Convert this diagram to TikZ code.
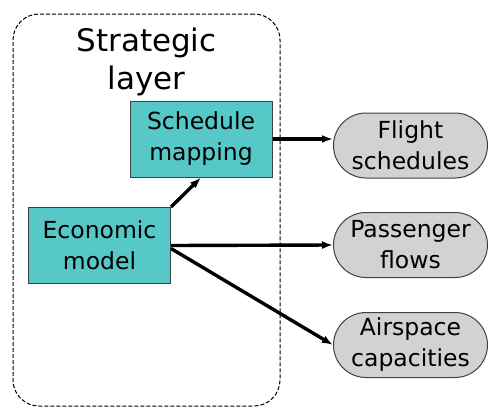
\documentclass[tikz,border=0pt]{standalone}
\usepackage{fontspec}
\setmainfont{DejaVu Sans}
\usetikzlibrary{positioning,arrows.meta,shapes.misc}

\definecolor{tealfill}{HTML}{56C8C8}
\definecolor{pillfill}{HTML}{D2D2D2}
\definecolor{edge}{HTML}{404040}

\begin{document}
\begin{tikzpicture}[
  x=1pt, y=-1pt,
  >={Latex[length=11pt,width=8pt]},
  font=\fontsize{23.5}{31}\selectfont,
  flow/.style={->, line width=3.4pt},
  layerbox/.style={
     draw=black,
     dash pattern=on 4pt off 2pt,
     line width=1pt,
     rounded corners=26pt,
     minimum width=267pt,
     minimum height=392pt
  },
  model/.style={
     draw=edge,
     fill=tealfill,
     line width=1pt,
     minimum width=142pt,
     minimum height=76pt,
     inner sep=0pt,
     align=center
  },
  output/.style={
     rounded rectangle,
     draw=edge,
     fill=pillfill,
     line width=1pt,
     minimum width=154pt,
     minimum height=65pt,
     inner xsep=0pt,
     inner ysep=0pt,
     align=center
  }
]
\useasboundingbox (0,0) rectangle (488,408);

\node[layerbox] (layer) at (146.5,210) {};
\node[font=\fontsize{31}{38}\selectfont, align=center, inner sep=0pt, below=14pt of layer.north] (title) {Strategic\\layer};

\node[model] (sched) at (201,139)  {Schedule\\mapping};
\node[model] (econ)  at (99.5,245.5) {Economic\\model};

\node[output] (flights)  at (410.5,145.5) {Flight\\schedules};
\node[output] (pax)      at (410.5,245)   {Passenger\\flows};
\node[output] (airspace) at (410.5,345)   {Airspace\\capacities};

\draw[flow] (econ.north east) -- (sched.south);
\draw[flow] (sched.east) -- (flights.west |- sched.east);
\draw[flow] (econ.east) -- (pax.west);
\draw[flow] ([yshift=-3pt]econ.east) -- (airspace.west);

\end{tikzpicture}
\end{document}
